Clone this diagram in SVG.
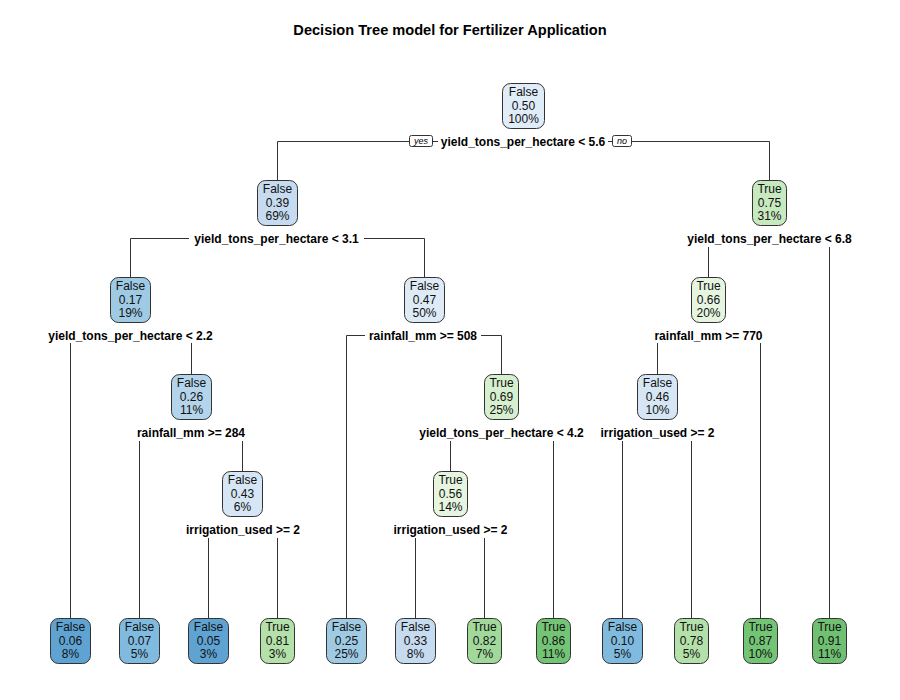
<svg xmlns="http://www.w3.org/2000/svg" width="900" height="700" viewBox="0 0 900 700">
<style>
.bg{fill:#ffffff}
.box{stroke:#333333;stroke-width:1}
.t{font-family:"Liberation Sans",Arial,sans-serif;font-size:12px;text-anchor:middle;fill:#111111}
.lbl{font-family:"Liberation Sans",Arial,sans-serif;font-size:12px;font-weight:bold;text-anchor:middle;fill:#000000}
.title{font-family:"Liberation Sans",Arial,sans-serif;font-size:14.6px;font-weight:bold;text-anchor:middle;fill:#000000}
.yn{font-family:"Liberation Sans",Arial,sans-serif;font-size:9px;font-style:italic;text-anchor:middle;fill:#000000}
.ynbox{fill:#ffffff;stroke:#333333;stroke-width:1}
#connectors line{stroke:#333333;stroke-width:1;fill:none}
</style>
<rect class="bg" x="0" y="0" width="900" height="700"/>
<text class="title" x="450" y="35">Decision Tree model for Fertilizer Application</text>

<g id="connectors">
  <line x1="277.5" y1="141.5" x2="410" y2="141.5"/>
  <line x1="433" y1="141.5" x2="438" y2="141.5"/>
  <line x1="608" y1="141.5" x2="612" y2="141.5"/>
  <line x1="632" y1="141.5" x2="769.5" y2="141.5"/>
  <line x1="277.5" y1="141.5" x2="277.5" y2="180"/>
  <line x1="769.5" y1="141.5" x2="769.5" y2="180"/>

  <line x1="130.5" y1="238.5" x2="189" y2="238.5"/>
  <line x1="364" y1="238.5" x2="424.5" y2="238.5"/>
  <line x1="130.5" y1="238.5" x2="130.5" y2="277"/>
  <line x1="424.5" y1="238.5" x2="424.5" y2="277"/>

  <line x1="708.5" y1="247" x2="708.5" y2="277"/>
  <line x1="829.5" y1="247" x2="829.5" y2="618"/>

  <line x1="70.5" y1="343" x2="70.5" y2="618"/>
  <line x1="191.5" y1="343" x2="191.5" y2="374"/>

  <line x1="346.5" y1="335.5" x2="365" y2="335.5"/>
  <line x1="481" y1="335.5" x2="501.5" y2="335.5"/>
  <line x1="346.5" y1="335.5" x2="346.5" y2="618"/>
  <line x1="501.5" y1="335.5" x2="501.5" y2="374"/>

  <line x1="657.5" y1="343" x2="657.5" y2="374"/>
  <line x1="760.5" y1="343" x2="760.5" y2="618"/>

  <line x1="139.5" y1="441" x2="139.5" y2="618"/>
  <line x1="242.5" y1="441" x2="242.5" y2="471"/>

  <line x1="450.5" y1="441" x2="450.5" y2="471"/>
  <line x1="553.5" y1="441" x2="553.5" y2="618"/>

  <line x1="622.5" y1="441" x2="622.5" y2="618"/>
  <line x1="691.5" y1="441" x2="691.5" y2="618"/>

  <line x1="208.5" y1="538" x2="208.5" y2="618"/>
  <line x1="277.5" y1="538" x2="277.5" y2="618"/>

  <line x1="415.5" y1="538" x2="415.5" y2="618"/>
  <line x1="484.5" y1="538" x2="484.5" y2="618"/>
</g>

<g id="yesno">
  <rect class="ynbox" x="409.5" y="135.5" width="23" height="11" rx="2"/>
  <text class="yn" x="421" y="144">yes</text>
  <rect class="ynbox" x="612.5" y="135.5" width="19" height="11" rx="2"/>
  <text class="yn" x="622" y="144">no</text>
</g>

<g id="n1">
  <rect class="box" x="502.5" y="83.5" width="42" height="45" rx="8" fill="#e0ecf8"/>
  <text class="t" x="523.5" y="96">False</text><text class="t" x="523.5" y="109.5">0.50</text><text class="t" x="523.5" y="123">100%</text>
  <text class="lbl" x="523" y="145.5">yield_tons_per_hectare &lt; 5.6</text>
</g>
<g id="n2">
  <rect class="box" x="257.5" y="180.5" width="40" height="45" rx="8" fill="#c6dbef"/>
  <text class="t" x="277.5" y="193">False</text><text class="t" x="277.5" y="206.5">0.39</text><text class="t" x="277.5" y="220">69%</text>
  <text class="lbl" x="276.5" y="242.5">yield_tons_per_hectare &lt; 3.1</text>
</g>
<g id="n3">
  <rect class="box" x="752.5" y="180.5" width="34" height="45" rx="8" fill="#c7e9c0"/>
  <text class="t" x="769.5" y="193">True</text><text class="t" x="769.5" y="206.5">0.75</text><text class="t" x="769.5" y="220">31%</text>
  <text class="lbl" x="769.5" y="242.5">yield_tons_per_hectare &lt; 6.8</text>
</g>
<g id="n4">
  <rect class="box" x="110.5" y="277.5" width="40" height="45" rx="8" fill="#9fcae4"/>
  <text class="t" x="130.5" y="290">False</text><text class="t" x="130.5" y="303.5">0.17</text><text class="t" x="130.5" y="317">19%</text>
  <text class="lbl" x="130.5" y="339.5">yield_tons_per_hectare &lt; 2.2</text>
</g>
<g id="n5">
  <rect class="box" x="404.5" y="277.5" width="40" height="45" rx="8" fill="#deebf7"/>
  <text class="t" x="424.5" y="290">False</text><text class="t" x="424.5" y="303.5">0.47</text><text class="t" x="424.5" y="317">50%</text>
  <text class="lbl" x="423" y="339.5">rainfall_mm &gt;= 508</text>
</g>
<g id="n6">
  <rect class="box" x="691.5" y="277.5" width="34" height="45" rx="8" fill="#e5f5e0"/>
  <text class="t" x="708.5" y="290">True</text><text class="t" x="708.5" y="303.5">0.66</text><text class="t" x="708.5" y="317">20%</text>
  <text class="lbl" x="708.5" y="339.5">rainfall_mm &gt;= 770</text>
</g>
<g id="n7">
  <rect class="box" x="171.5" y="374.5" width="40" height="45" rx="8" fill="#b3d4ea"/>
  <text class="t" x="191.5" y="387">False</text><text class="t" x="191.5" y="400.5">0.26</text><text class="t" x="191.5" y="414">11%</text>
  <text class="lbl" x="191" y="436.5">rainfall_mm &gt;= 284</text>
</g>
<g id="n8">
  <rect class="box" x="484.5" y="374.5" width="34" height="45" rx="8" fill="#d5efcf"/>
  <text class="t" x="501.5" y="387">True</text><text class="t" x="501.5" y="400.5">0.69</text><text class="t" x="501.5" y="414">25%</text>
  <text class="lbl" x="501.5" y="436.5">yield_tons_per_hectare &lt; 4.2</text>
</g>
<g id="n9">
  <rect class="box" x="637.5" y="374.5" width="40" height="45" rx="8" fill="#d6e6f4"/>
  <text class="t" x="657.5" y="387">False</text><text class="t" x="657.5" y="400.5">0.46</text><text class="t" x="657.5" y="414">10%</text>
  <text class="lbl" x="657.5" y="436.5">irrigation_used &gt;= 2</text>
</g>
<g id="n10">
  <rect class="box" x="222.5" y="471.5" width="40" height="45" rx="8" fill="#d6e6f4"/>
  <text class="t" x="242.5" y="484">False</text><text class="t" x="242.5" y="497.5">0.43</text><text class="t" x="242.5" y="511">6%</text>
  <text class="lbl" x="243" y="533.5">irrigation_used &gt;= 2</text>
</g>
<g id="n11">
  <rect class="box" x="433.5" y="471.5" width="34" height="45" rx="8" fill="#e5f5e0"/>
  <text class="t" x="450.5" y="484">True</text><text class="t" x="450.5" y="497.5">0.56</text><text class="t" x="450.5" y="511">14%</text>
  <text class="lbl" x="450.5" y="533.5">irrigation_used &gt;= 2</text>
</g>

<g id="leaf1">
  <rect class="box" x="50.5" y="618.5" width="40" height="45" rx="8" fill="#5fa3d3"/>
  <text class="t" x="70.5" y="631">False</text><text class="t" x="70.5" y="644.5">0.06</text><text class="t" x="70.5" y="658">8%</text>
</g>
<g id="leaf2">
  <rect class="box" x="119.5" y="618.5" width="40" height="45" rx="8" fill="#80bbdf"/>
  <text class="t" x="139.5" y="631">False</text><text class="t" x="139.5" y="644.5">0.07</text><text class="t" x="139.5" y="658">5%</text>
</g>
<g id="leaf3">
  <rect class="box" x="188.5" y="618.5" width="40" height="45" rx="8" fill="#5fa3d3"/>
  <text class="t" x="208.5" y="631">False</text><text class="t" x="208.5" y="644.5">0.05</text><text class="t" x="208.5" y="658">3%</text>
</g>
<g id="leaf4">
  <rect class="box" x="260.5" y="618.5" width="34" height="45" rx="8" fill="#b4e0a9"/>
  <text class="t" x="277.5" y="631">True</text><text class="t" x="277.5" y="644.5">0.81</text><text class="t" x="277.5" y="658">3%</text>
</g>
<g id="leaf5">
  <rect class="box" x="326.5" y="618.5" width="40" height="45" rx="8" fill="#9fcae4"/>
  <text class="t" x="346.5" y="631">False</text><text class="t" x="346.5" y="644.5">0.25</text><text class="t" x="346.5" y="658">25%</text>
</g>
<g id="leaf6">
  <rect class="box" x="395.5" y="618.5" width="40" height="45" rx="8" fill="#c6dbef"/>
  <text class="t" x="415.5" y="631">False</text><text class="t" x="415.5" y="644.5">0.33</text><text class="t" x="415.5" y="658">8%</text>
</g>
<g id="leaf7">
  <rect class="box" x="467.5" y="618.5" width="34" height="45" rx="8" fill="#a1d99b"/>
  <text class="t" x="484.5" y="631">True</text><text class="t" x="484.5" y="644.5">0.82</text><text class="t" x="484.5" y="658">7%</text>
</g>
<g id="leaf8">
  <rect class="box" x="536.5" y="618.5" width="34" height="45" rx="8" fill="#74c476"/>
  <text class="t" x="553.5" y="631">True</text><text class="t" x="553.5" y="644.5">0.86</text><text class="t" x="553.5" y="658">11%</text>
</g>
<g id="leaf9">
  <rect class="box" x="602.5" y="618.5" width="40" height="45" rx="8" fill="#80bbdf"/>
  <text class="t" x="622.5" y="631">False</text><text class="t" x="622.5" y="644.5">0.10</text><text class="t" x="622.5" y="658">5%</text>
</g>
<g id="leaf10">
  <rect class="box" x="674.5" y="618.5" width="34" height="45" rx="8" fill="#b4e0a9"/>
  <text class="t" x="691.5" y="631">True</text><text class="t" x="691.5" y="644.5">0.78</text><text class="t" x="691.5" y="658">5%</text>
</g>
<g id="leaf11">
  <rect class="box" x="743.5" y="618.5" width="34" height="45" rx="8" fill="#74c476"/>
  <text class="t" x="760.5" y="631">True</text><text class="t" x="760.5" y="644.5">0.87</text><text class="t" x="760.5" y="658">10%</text>
</g>
<g id="leaf12">
  <rect class="box" x="812.5" y="618.5" width="34" height="45" rx="8" fill="#6fc071"/>
  <text class="t" x="829.5" y="631">True</text><text class="t" x="829.5" y="644.5">0.91</text><text class="t" x="829.5" y="658">11%</text>
</g>
</svg>
